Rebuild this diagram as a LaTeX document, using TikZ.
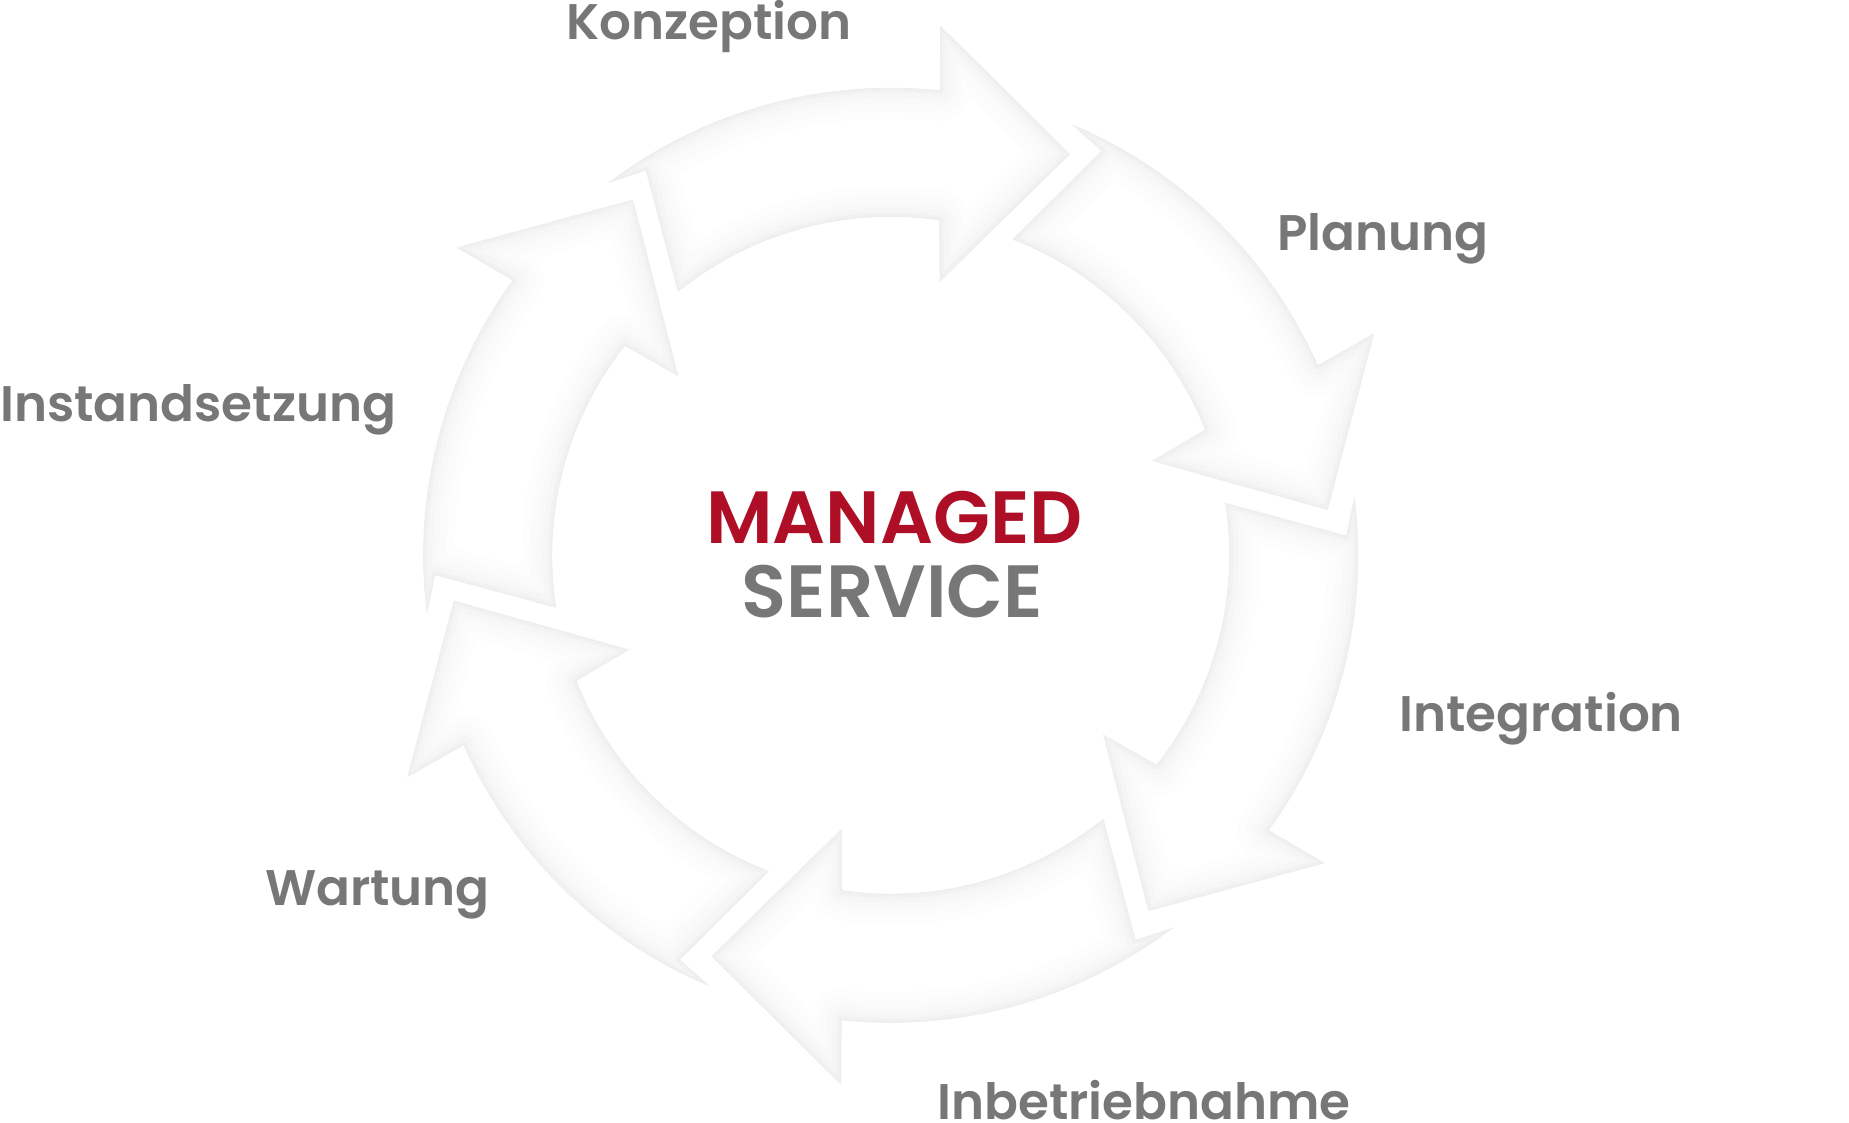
\documentclass[tikz,border=0pt]{standalone}
\usepackage{fontspec}
\setmainfont{Poppins SemiBold}
\usepackage{tikz}
\usepackage{xcolor}

\definecolor{labelgray}{RGB}{119,119,119}
\definecolor{managedred}{RGB}{174,14,38}
% one arrow of the ring, the top one; the others are turned copies
\newcommand{\cyclearrow}{(126.9:467) arc[start angle=126.9, end angle=83.9, radius=467]
  -- (84.6:531) -- (66:439) -- (79.8:279) -- (81.7:339)
  arc[start angle=81.7, end angle=128.8, radius=339] -- (122.4:456.4) -- cycle}

\begin{document}
\begin{tikzpicture}[x=1pt, y=1pt,
    stagelabel/.style={font=\fontsize{50}{50}\selectfont, text=labelgray, inner sep=0pt, anchor=base west},
    centertext/.style={font=\fontsize{74}{74}\selectfont, inner sep=0pt, anchor=base}]
        \useasboundingbox (-890.7,-567.7) rectangle (958.3,555.3);
        \foreach \k in {0,...,5}{
            \begin{scope}[rotate=-60*\k]
                \fill[white] \cyclearrow;
                \begin{scope}
                    \clip \cyclearrow;
                    \foreach \w/\c in {60/1.5, 44/3, 30/5, 18/7, 8/10, 3/12}
                        \draw[line width=\w pt, gray!\c, line join=round] \cyclearrow;
                \end{scope}
                \draw[gray!13, line width=1pt] \cyclearrow;
            \end{scope}
        }
        \node[stagelabel] (konzeption) at (-324.7,516) {Konzeption};
        \node[stagelabel] (planung) at (386.6,304.6) {Planung};
        \node[stagelabel] (integration) at (508.6,-176.4) {Integration};
        \node[stagelabel] (inbetriebnahme) at (46.6,-564.2) {Inbetriebnahme};
        \node[stagelabel] (wartung) at (-625.7,-349.7) {Wartung};
        \node[stagelabel] (instandsetzung) at (-890.7,133.6) {Instandsetzung};
        \node[centertext, text=managedred] (managed) at (3.8,12) {MANAGED};
        \node[centertext, text=labelgray] (service) at (1.8,-62) {SERVICE}; % centre
    \end{tikzpicture}
\end{document}
